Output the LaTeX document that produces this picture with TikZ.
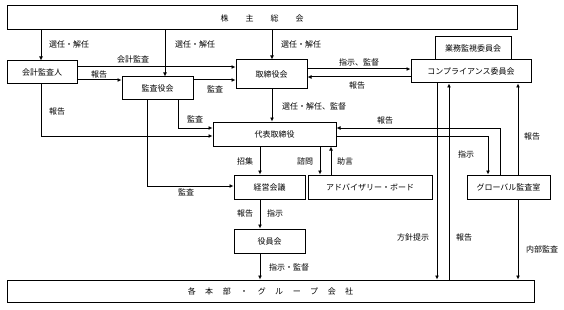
\documentclass[tikz,border=0pt]{standalone}
\usepackage{fontspec}
\newfontfamily\jp{Noto Sans CJK JP}
\usetikzlibrary{arrows.meta}
\newcommand\bx[6]{\node[box,minimum width={#4-#2},minimum height={#5-#3}] (#1) at ({(#2+#4)/2},{(#3+#5)/2}) {#6};}
\begin{document}
\begin{tikzpicture}[x=1pt,y=-1pt,
 box/.style={draw,line width=1pt,inner sep=0pt,font=\jp\fontsize{8}{9}\selectfont},
 lbl/.style={inner sep=0pt,font=\jp\fontsize{8}{9}\selectfont},
 arr/.style={line width=1pt,-{Latex[length=4pt,width=4pt]}}]
\useasboundingbox (0,0) rectangle (564,310);
\bx{kabu}{7}{6}{517}{30}{株\hspace{17pt}主\hspace{17pt}総\hspace{17pt}会}
\bx{kaikei}{7}{61}{77}{84}{会計監査人}
\bx{kansa}{122}{77}{193}{100}{監査役会}
\bx{tori}{236}{60}{307}{89}{取締役会}
\bx{gyomu}{435}{37}{511}{60}{業務監視委員会}
\bx{comp}{411}{60}{531}{83}{コンプライアンス委員会}
\bx{daihyo}{213}{122}{336}{146}{代表取締役}
\bx{keiei}{234}{175}{305}{199}{経営会議}
\bx{adv}{308}{175}{432}{199}{アドバイザリー・ボード}
\bx{glob}{467}{175}{550}{199}{グローバル監査室}
\bx{yakuin}{234}{229}{305}{253}{役員会}
\bx{kaku}{7}{280}{534}{302}{各\hspace{9.5pt}本\hspace{9.5pt}部\hspace{9.5pt}・\hspace{9.5pt}グ\hspace{9.5pt}ル\hspace{9.5pt}ー\hspace{9.5pt}プ\hspace{9.5pt}会\hspace{9.5pt}社}
% connectors
\draw[arr] (41,0 |- kabu.south) -- (41,0 |- kaikei.north);
\draw[arr] (165,0 |- kabu.south) -- (165,0 |- kansa.north);
\draw[arr] (272,0 |- kabu.south) -- (272,0 |- tori.north);
\draw[arr] (kaikei.east |- 0,67) -- (tori.west |- 0,67);
\draw[arr] (kaikei.east |- 0,80) -- (kansa.west |- 0,80);
\draw[arr] (kansa.east |- 0,80) -- (tori.west |- 0,80);
\draw[arr] (tori.east |- 0,69) -- (comp.west |- 0,69);
\draw[arr] (comp.west |- 0,77) -- (tori.east |- 0,77);
\draw[arr] (272,0 |- tori.south) -- (272,0 |- daihyo.north);
\draw[arr] (41,0 |- kaikei.south) |- (daihyo.west |- 0,136);
\draw[arr] (178,0 |- kansa.south) |- (daihyo.west |- 0,128);
\draw[arr] (147,0 |- kansa.south) |- (keiei.west |- 0,186);
\draw[arr] (260,0 |- daihyo.south) -- (260,0 |- keiei.north);
\draw[arr] (320,0 |- daihyo.south) -- (320,0 |- adv.north);
\draw[arr] (331,0 |- adv.north) -- (331,0 |- daihyo.south);
\draw[arr] (500,0 |- glob.north) |- (daihyo.east |- 0,128);
\draw[arr] (daihyo.east |- 0,136) -| (488,0 |- glob.north);
\draw[arr] (518,0 |- glob.north) -- (518,0 |- comp.south);
\draw[arr] (518,0 |- glob.south) -- (518,0 |- kaku.north);
\draw[arr] (437,0 |- comp.south) -- (437,0 |- kaku.north);
\draw[arr] (449,0 |- kaku.north) -- (449,0 |- comp.south);
\draw[arr] (260,0 |- keiei.south) -- (260,0 |- yakuin.north);
\draw[arr] (260,0 |- yakuin.south) -- (260,0 |- kaku.north);
% labels
\node[lbl] (t1) at (69,44) {選任・解任};
\node[lbl] (t2) at (195,44) {選任・解任};
\node[lbl] (t3) at (301,44) {選任・解任};
\node[lbl] (t4) at (133,59) {会計監査};
\node[lbl] (t5) at (99,74) {報告};
\node[lbl] (t6) at (215,89) {監査};
\node[lbl] (t7) at (359,62) {指示、監督};
\node[lbl] (t8) at (357,85) {報告};
\node[lbl] (t9) at (314,106) {選任・解任、監督};
\node[lbl] (t10) at (57,111) {報告};
\node[lbl] (t11) at (195,119) {監査};
\node[lbl] (t12) at (245,161) {招集};
\node[lbl] (t13) at (186,192) {監査};
\node[lbl] (t14) at (305,161) {諮問};
\node[lbl] (t15) at (345,161) {助言};
\node[lbl] (t16) at (385,120) {報告};
\node[lbl] (t17) at (466,154) {指示};
\node[lbl] (t18) at (532,136) {報告};
\node[lbl] (t19) at (245,213) {報告};
\node[lbl] (t20) at (275,213) {指示};
\node[lbl] (t21) at (289,267) {指示・監督};
\node[lbl] (t22) at (413,237) {方針提示};
\node[lbl] (t23) at (464,237) {報告};
\node[lbl] (t24) at (542,249) {内部監査};
\end{tikzpicture}
\end{document}
